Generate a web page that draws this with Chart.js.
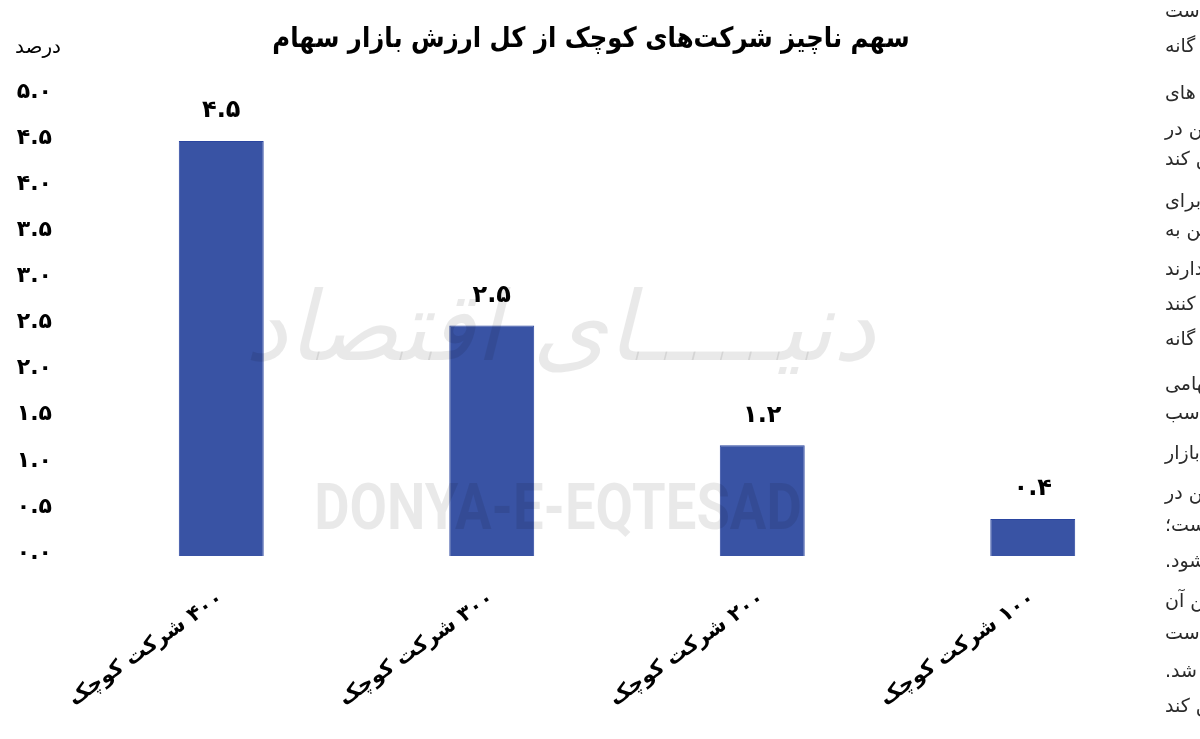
<!DOCTYPE html>
<html>
<head>
<meta charset="utf-8">
<script src="https://cdn.jsdelivr.net/npm/chart.js@4/dist/chart.umd.min.js"></script>
<style>
  html, body { margin: 0; padding: 0; background: #fff; overflow: hidden; }
  #wrap { position: relative; width: 1200px; height: 739px; }
  #c { position: absolute; left: 0; top: 0; }
  #side { position: absolute; left: 1165px; top: 0; width: 400px; height: 739px; }
  #side div { position: absolute; left: 0; direction: rtl; text-align: left; width: 400px;
    font-family: "DejaVu Sans", sans-serif; font-size: 19px; color: #2a2a2a; line-height: 22px; }
</style>
</head>
<body>
<div id="wrap">
  <canvas id="c" width="1200" height="739" dir="rtl"></canvas>
  <div id="side"></div>
</div>
<script>
// ---- data ----
const chartTitle = 'سهم ناچیز شرکت\u200Cهای کوچک از کل ارزش بازار سهام';
const unitLabel = 'درصد';
const categories = ['۴۰۰ شرکت کوچک', '۳۰۰ شرکت کوچک', '۲۰۰ شرکت کوچک', '۱۰۰ شرکت کوچک'];
const shareValues = [4.5, 2.5, 1.2, 0.4];
const yTickValues = [0, 0.5, 1, 1.5, 2, 2.5, 3, 3.5, 4, 4.5, 5];
const sideWords = ['است', 'گانه', 'های', 'در', 'کند', 'برای', 'به', 'دارند', 'کنند', 'گانه',
  'سهامی', 'مناسب', 'بازار', 'در', 'است؛', 'شود.', 'آن', 'است', 'شد.', 'کند'];
const sideTops = [-1, 34, 81, 117, 147, 189, 218, 257, 292, 327, 372, 401, 441, 481, 513, 549, 589, 621, 659, 694];

const faDigits = '۰۱۲۳۴۵۶۷۸۹';
const toFa = s => String(s).replace(/[0-9]/g, d => faDigits[+d]);
const FONT = '"DejaVu Sans", sans-serif';

// side article text fragments
const side = document.getElementById('side');
sideWords.forEach((w, i) => {
  const d = document.createElement('div');
  d.style.top = sideTops[i] + 'px';
  d.textContent = 'متن ' + w;
  side.appendChild(d);
});

const decor = {
  id: 'decor',
  beforeDraw(chart) {
    const ctx = chart.ctx;
    ctx.save();
    ctx.fillStyle = '#000';
    ctx.textAlign = 'center';
    ctx.textBaseline = 'middle';
    ctx.save();
    ctx.translate(591, 40);
    ctx.scale(0.87, 1);
    ctx.font = 'bold 28px ' + FONT;
    ctx.fillText(chartTitle, 0, 0);
    ctx.restore();
    ctx.font = '20px ' + FONT;
    ctx.fillText(unitLabel, 38, 48);
    ctx.restore();
  },
  afterDatasetsDraw(chart) {
    const ctx = chart.ctx;
    ctx.save();
    // watermark
    ctx.fillStyle = 'rgba(0,0,0,0.085)';
    ctx.textAlign = 'center';
    ctx.textBaseline = 'middle';
    ctx.save();
    ctx.translate(558, 513);
    ctx.scale(0.85, 1);
    ctx.font = 'bold 64px Roboto, sans-serif';
    ctx.fillText('DONYA-E-EQTESAD', 0, 0);
    ctx.restore();
    ctx.font = 'italic 96px ' + FONT;
    ctx.fillText('دنیـــــای اقتصاد', 560, 335);
    // value labels
    ctx.fillStyle = '#000';
    ctx.font = 'bold 24px ' + FONT;
    const meta = chart.getDatasetMeta(0);
    meta.data.forEach((bar, i) => {
      ctx.fillText(toFa(shareValues[i].toFixed(1)), bar.x, bar.y - 30);
    });
    ctx.restore();
  }
};

new Chart(document.getElementById('c'), {
  type: 'bar',
  data: {
    labels: categories,
    datasets: [{
      data: shareValues,
      backgroundColor: '#3953a4',
      borderColor: '#2a45a0',
      borderWidth: 1,
      categoryPercentage: 1,
      barPercentage: 0.314
    }]
  },
  options: {
    responsive: false,
    animation: false,
    layout: { padding: { top: 95, right: 32, left: 0, bottom: 0 } },
    plugins: { legend: { display: false }, title: { display: false }, tooltip: { enabled: false } },
    scales: {
      x: {
        grid: { display: false, drawTicks: false },
        border: { display: false },
        ticks: {
          color: '#000',
          font: { family: FONT, size: 21, weight: 'bold' },
          minRotation: 35, maxRotation: 35,
          padding: 30,
          autoSkip: false
        },
        afterFit(s) { s.height = 183; s.paddingLeft = 0; s.paddingRight = 0; }
      },
      y: {
        min: 0, max: 5,
        grid: { display: false, drawTicks: false },
        border: { display: false },
        afterBuildTicks(s) { s.ticks = yTickValues.map(v => ({ value: v })); },
        ticks: {
          color: '#000',
          font: { family: FONT, size: 22, weight: 'bold' },
          padding: 34,
          labelOffset: -3,
          callback: v => toFa(Number(v).toFixed(1))
        },
        afterFit(s) { s.width = 86; s.paddingTop = 0; s.paddingBottom = 0; }
      }
    }
  },
  plugins: [decor]
});
</script>
</body>
</html>
